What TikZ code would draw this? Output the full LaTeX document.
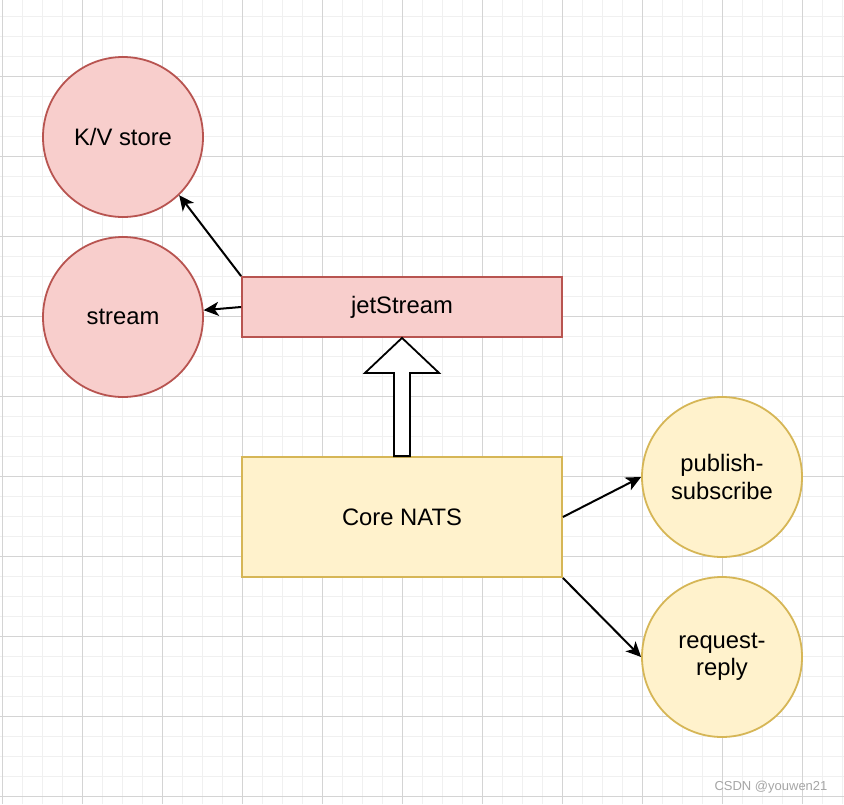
\documentclass[tikz,border=0pt]{standalone}
\usepackage{fontspec}
\setmainfont{Liberation Sans}
\usetikzlibrary{arrows.meta,calc}
\definecolor{redfill}{HTML}{F8CECC}
\definecolor{redline}{HTML}{B85450}
\definecolor{yelfill}{HTML}{FFF2CC}
\definecolor{yelline}{HTML}{D6B656}
\definecolor{gridminor}{HTML}{F0F0F0}
\definecolor{gridmajor}{HTML}{D4D4D4}
\tikzset{
  redcircle/.style={circle, draw=redline, fill=redfill, line width=1.8pt, minimum size=160pt, inner sep=0pt, align=center},
  yelcircle/.style={circle, draw=yelline, fill=yelfill, line width=1.8pt, minimum size=160pt, inner sep=0pt, align=center},
  redbox/.style={rectangle, draw=redline, fill=redfill, line width=1.8pt, minimum width=320pt, minimum height=60pt, inner sep=0pt},
  yelbox/.style={rectangle, draw=yelline, fill=yelfill, line width=1.8pt, minimum width=320pt, minimum height=120pt, inner sep=0pt},
  conn/.style={line width=2pt, -{Stealth[length=15pt,width=14pt,inset=4pt]}},
  every node/.style={font=\fontsize{23.8}{27.5}\selectfont}
}
\begin{document}
\begin{tikzpicture}[x=1pt,y=-1pt]
\useasboundingbox (0,0) rectangle (844,804);
\fill[white] (0,0) rectangle (844,804);
% grid
\foreach \x in {2,22,...,842} \draw[gridminor, line width=1pt] (\x,0) -- (\x,804);
\foreach \y in {16,36,...,796} \draw[gridminor, line width=1pt] (0,\y) -- (844,\y);
\foreach \x in {2,82,...,802} \draw[gridmajor, line width=1pt] (\x,0) -- (\x,804);
\foreach \y in {76,156,...,796} \draw[gridmajor, line width=1pt] (0,\y) -- (844,\y);
% nodes
\node[redcircle] (kv) at (123,137) {K/V store};
\node[redcircle] (stream) at (123,317) {stream};
\node[redbox] (js) at (402,307) {jetStream};
\node[yelbox] (nats) at (402,517) {Core NATS};
\node[yelcircle] (ps) at (722,477) {publish-\\subscribe};
\node[yelcircle] (rr) at (722,657) {request-\\reply};
% connectors
\draw[conn] (js.north west) -- (kv.-46);
\draw[conn] (js.west) -- (stream);
\draw[conn] (nats.east) -- (ps.west);
\draw[conn] (nats.south east) -- (rr.west);
% hollow block arrow
\draw[line width=1.8pt, fill=white, line join=miter]
  ($(nats.north)+(-8,0)$) -- ($(nats.north)+(8,0)$) -- ($(js.south)+(8,35)$) --
  ($(js.south)+(37,35)$) -- (js.south) -- ($(js.south)+(-37,35)$) --
  ($(js.south)+(-8,35)$) -- cycle;
% watermark
\node[font=\fontsize{13}{15}\selectfont, text=black!35] (wm) at (771,787) {CSDN @youwen21};
\end{tikzpicture}
\end{document}
